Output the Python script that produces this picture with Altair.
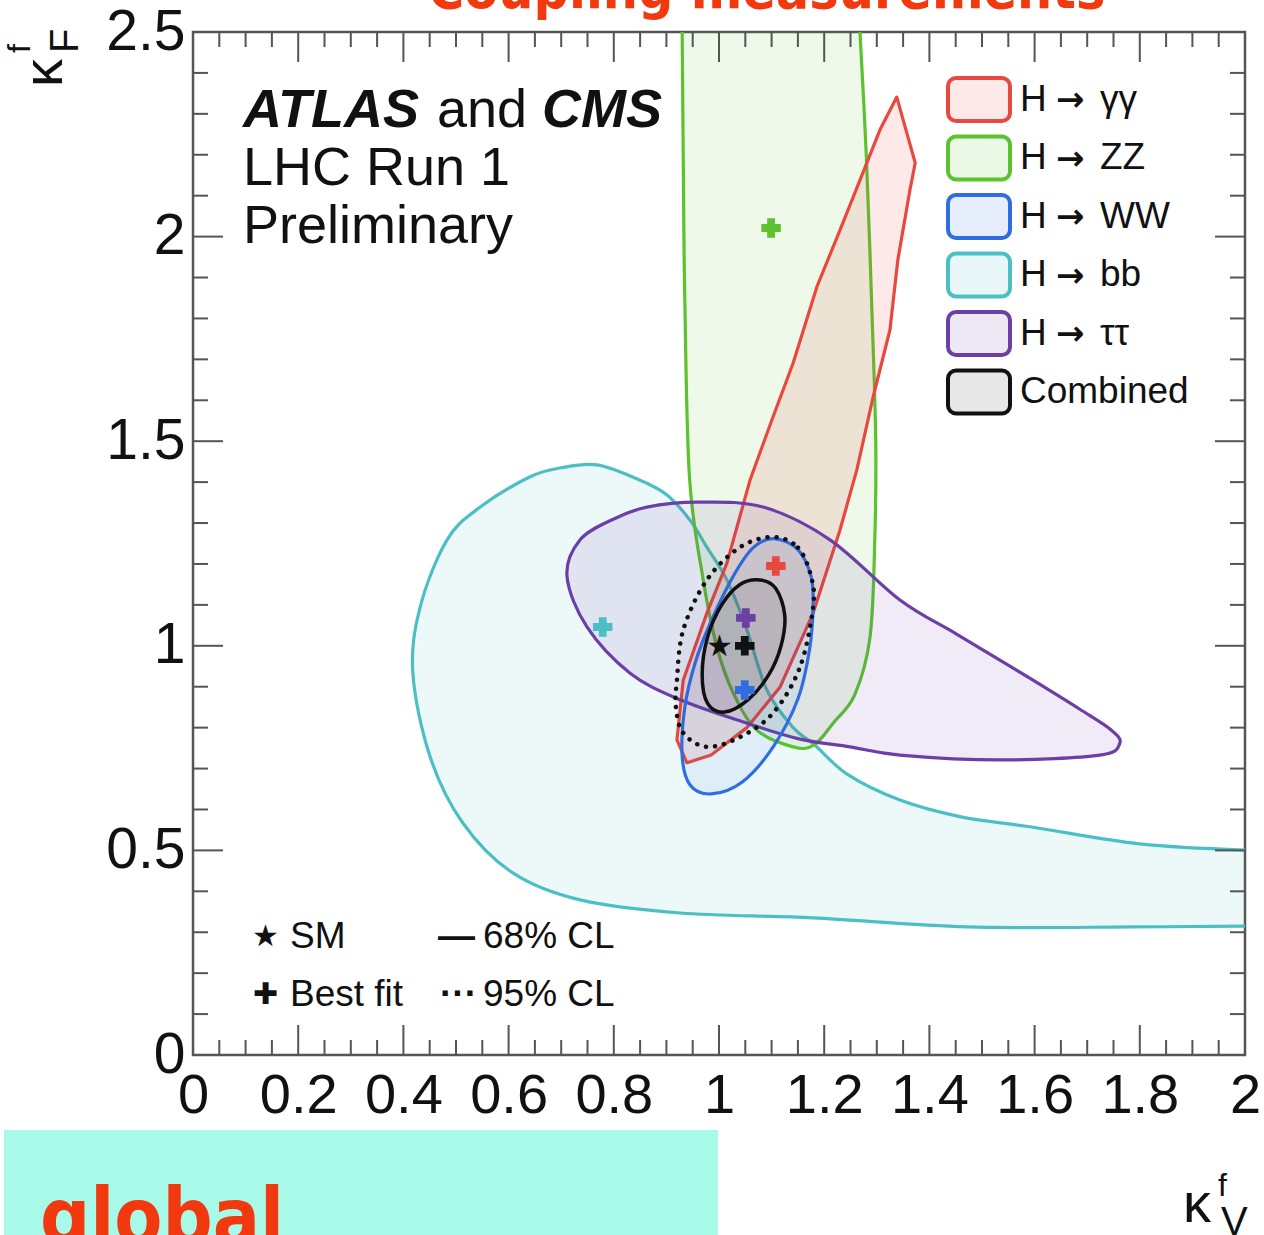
import altair as alt
import pandas as pd

FONT = "Liberation Sans"

# ---------------- data ----------------
# H -> bb (cyan), open curve ending on the right frame
bb_x = [2.0, 1.80, 1.60, 1.46, 1.344, 1.245, 1.18, 1.141, 1.091, 1.053, 1.015, 0.975, 0.945,
        0.90, 0.844, 0.768, 0.70, 0.641, 0.546, 0.483, 0.432, 0.418, 0.451, 0.513, 0.608, 0.736,
        0.926, 1.179, 1.471, 1.787, 2.0]
bb_y = [0.501, 0.516, 0.556, 0.582, 0.623, 0.685, 0.76, 0.80, 0.892, 1.039, 1.161, 1.245, 1.307,
        1.37, 1.408, 1.442, 1.435, 1.413, 1.339, 1.259, 1.095, 0.933, 0.728, 0.567, 0.445, 0.379,
        0.347, 0.335, 0.313, 0.313, 0.315]

# H -> ZZ (green), open curve ending on the top frame
zz_x = [0.930, 0.932, 0.935, 0.944, 0.970, 0.996, 1.027, 1.072, 1.141, 1.180, 1.217, 1.258, 1.287,
        1.296, 1.298, 1.290, 1.280, 1.268]
zz_y = [2.5, 2.2, 1.845, 1.41, 1.161, 0.997, 0.885, 0.794, 0.753, 0.757, 0.811, 0.88, 1.02,
        1.25, 1.50, 1.845, 2.2, 2.5]

# H -> gamma gamma (red)
gg_x = [1.338, 1.373, 1.363, 1.340, 1.325, 1.293, 1.262, 1.230, 1.179, 1.116, 1.053, 0.985, 0.939,
        0.920, 0.932, 0.977, 1.015, 1.059, 1.100, 1.141, 1.186, 1.230, 1.268, 1.306]
gg_y = [2.341, 2.180, 2.114, 1.943, 1.772, 1.608, 1.43, 1.283, 1.080, 0.899, 0.80, 0.733, 0.714,
        0.770, 0.916, 1.080, 1.202, 1.405, 1.55, 1.691, 1.877, 2.016, 2.138, 2.261]

# H -> tau tau (purple)
tt_x = [0.711, 0.736, 0.80, 0.863, 0.958, 1.084, 1.211, 1.344, 1.45, 1.534, 1.597, 1.686, 1.745,
        1.762, 1.724, 1.534, 1.344, 1.249, 1.154, 1.053, 0.926, 0.831, 0.749]
tt_y = [1.170, 1.259, 1.31, 1.339, 1.351, 1.339, 1.259, 1.112, 1.03, 0.965, 0.916, 0.845, 0.795,
        0.762, 0.733, 0.721, 0.733, 0.753, 0.772, 0.811, 0.868, 0.933, 1.046]

# H -> WW (blue)
ww_x = [1.105, 1.150, 1.175, 1.179, 1.172, 1.150, 1.103, 1.045, 0.985, 0.945, 0.930, 0.935, 0.955,
        0.985, 1.027, 1.065]
ww_y = [1.262, 1.235, 1.17, 1.10, 0.99, 0.87, 0.753, 0.668, 0.638, 0.66, 0.73, 0.85, 0.96,
        1.06, 1.170, 1.24]

# Combined 95% CL (dotted)
c95_x = [1.103, 1.150, 1.175, 1.179, 1.154, 1.103, 1.040, 0.977, 0.932, 0.918, 0.920, 0.932, 0.977, 1.040]
c95_y = [1.266, 1.24, 1.17, 1.095, 0.948, 0.836, 0.777, 0.753, 0.787, 0.85, 0.916, 1.039, 1.161, 1.241]

# Combined 68% CL (solid)
c68_x = [1.078, 1.108, 1.125, 1.118, 1.095, 1.055, 1.010, 0.978, 0.968, 0.978, 1.005, 1.040]
c68_y = [1.161, 1.140, 1.075, 1.000, 0.930, 0.868, 0.838, 0.860, 0.930, 1.020, 1.100, 1.150]

# best-fit points and SM
bf_x = [1.108, 1.099, 1.049, 0.779, 1.051, 1.049]
bf_y = [1.195, 2.021, 0.892, 1.046, 1.068, 1.000]
sm_x = [1.0]
sm_y = [1.0]

leg_final = ["\u03b3\u03b3", "ZZ", "WW", "bb", "\u03c4\u03c4"]
leg_colors = ["#e8493e", "#5cc22e", "#2f6de0", "#4cbfc4", "#6b3fa6", "#111111"]

x_major = [0, 0.2, 0.4, 0.6, 0.8, 1.0, 1.2, 1.4, 1.6, 1.8, 2.0]
x_minor = [round(0.05 * k, 2) for k in range(41) if k % 4 != 0]
y_major = [0, 0.5, 1.0, 1.5, 2.0, 2.5]
y_minor = [round(0.1 * k, 1) for k in range(26) if k % 5 != 0]

# ---------------- chart ----------------
W, H = 1052, 1023
xs = alt.Scale(domain=[0, 2], nice=False, zero=False)
ys = alt.Scale(domain=[0, 2.5], nice=False, zero=False)
x_axis = alt.Axis(orient="bottom", values=x_major, format="~g", labelFontSize=56, labelFont=FONT,
                  labelColor="#111", ticks=False, domain=False, grid=False, labelPadding=13,
                  title=None, labelFlush=False, labelOverlap=False)
y_axis = alt.Axis(orient="left", values=y_major, format="~g", labelFontSize=57, labelFont=FONT,
                  labelColor="#111", ticks=False, domain=False, grid=False, labelPadding=8,
                  title=None, labelFlush=False, labelOverlap=False)


def X(f="x"):
    return alt.X(f"{f}:Q", scale=xs, axis=x_axis)


def Y(f="y"):
    return alt.Y(f"{f}:Q", scale=ys, axis=y_axis)


def poly_df(xv, yv):
    return pd.DataFrame({"x": xv, "y": yv, "i": list(range(len(xv)))})


def contour(xv, yv, color, op, interp, width=3.2, dash=None):
    kw = dict(stroke=color, fill=color, fillOpacity=op, strokeWidth=width,
              interpolate=interp, strokeJoin="round")
    if dash:
        kw["strokeDash"] = dash
        kw["strokeCap"] = "round"
    return alt.Chart(poly_df(xv, yv)).mark_line(**kw).encode(x=X(), y=Y(), order=alt.Order("i:Q"))


def open_contour(xv, yv, color, op, width=3.2):
    fill = alt.Chart(poly_df(xv, yv)).mark_line(
        stroke=color, strokeOpacity=0, strokeWidth=0, fill=color, fillOpacity=op,
        interpolate="linear-closed").encode(x=X(), y=Y(), order=alt.Order("i:Q"))
    line = alt.Chart(poly_df(xv, yv)).mark_line(
        color=color, strokeWidth=width, interpolate="cardinal", strokeJoin="round"
    ).encode(x=X(), y=Y(), order=alt.Order("i:Q"))
    return [fill, line]


one = pd.DataFrame({"a": [0]})


def txt(s, x, y, size, **kw):
    params = dict(text=s, fontSize=size, font=FONT, color="#111", align="left", baseline="alphabetic")
    params.update(kw)
    return alt.Chart(one).mark_text(**params).encode(x=alt.value(x), y=alt.value(y))


layers = []
layers += open_contour(bb_x, bb_y, leg_colors[3], 0.10)
layers += open_contour(zz_x, zz_y, leg_colors[1], 0.10)
layers.append(contour(gg_x, gg_y, leg_colors[0], 0.12, "linear-closed"))
layers.append(contour(tt_x, tt_y, leg_colors[4], 0.10, "cardinal-closed"))
layers.append(contour(ww_x, ww_y, leg_colors[2], 0.08, "cardinal-closed"))
layers.append(contour(c95_x, c95_y, "#111111", 0.03, "cardinal-closed", width=4.5, dash=[0.1, 9]))
layers.append(contour(c68_x, c68_y, "#111111", 0.08, "cardinal-closed", width=3.5))

# ticks on all four sides (inward), drawn with tick marks through the scales
tick_col = "#555"
xmaj = pd.DataFrame({"x": x_major})
xmin = pd.DataFrame({"x": x_minor})
ymaj = pd.DataFrame({"y": y_major})
ymin = pd.DataFrame({"y": y_minor})
for df, L in ((xmaj, 30), (xmin, 15)):
    layers.append(alt.Chart(df).mark_tick(color=tick_col, thickness=2, size=L, orient="vertical", opacity=1)
                  .encode(x=X(), y=alt.value(H - L / 2)))
    layers.append(alt.Chart(df).mark_tick(color=tick_col, thickness=2, size=L, orient="vertical", opacity=1)
                  .encode(x=X(), y=alt.value(L / 2)))
for df, L in ((ymaj, 30), (ymin, 15)):
    layers.append(alt.Chart(df).mark_tick(color=tick_col, thickness=2, size=L, orient="horizontal", opacity=1)
                  .encode(y=Y(), x=alt.value(L / 2)))
    layers.append(alt.Chart(df).mark_tick(color=tick_col, thickness=2, size=L, orient="horizontal", opacity=1)
                  .encode(y=Y(), x=alt.value(W - L / 2)))

# experiment label
layers.append(txt("ATLAS", 50, 95, 54, fontWeight="bold", fontStyle="italic"))
layers.append(txt("and", 244, 95, 54))
layers.append(txt("CMS", 349, 95, 54, fontWeight="bold", fontStyle="italic"))
layers.append(txt("LHC Run 1", 50, 153, 54))
layers.append(txt("Preliminary", 50, 211, 54))

# colour legend (top right)
for i, col in enumerate(leg_colors):
    y0 = 46 + 58.5 * i
    layers.append(alt.Chart(one).mark_rect(cornerRadius=8, stroke=col, strokeWidth=4, fill=col,
                                           fillOpacity=0.12 if i < 5 else 0.1)
                  .encode(x=alt.value(755), x2=alt.value(817), y=alt.value(y0), y2=alt.value(y0 + 43)))
    if i < 5:
        layers.append(txt("H", 827, y0 + 21.5, 37, baseline="middle"))
        layers.append(txt("\u2192", 863, y0 + 23, 34, baseline="middle", font="DejaVu Sans",
                          fontWeight="bold"))
        layers.append(txt(leg_final[i], 907, y0 + 21.5, 37, baseline="middle"))
    else:
        layers.append(txt("Combined", 827, y0 + 21.5, 37, baseline="middle"))

# marker / line-style legend (bottom left)
layers.append(txt("\u2605", 72, 905, 30, baseline="middle", align="center"))
layers.append(txt("\u271a", 72, 963, 30, baseline="middle", align="center"))
layers.append(txt("SM", 97, 905, 37, baseline="middle"))
layers.append(txt("Best fit", 97, 963, 37, baseline="middle"))
layers.append(txt("\u2014", 245, 905, 37, baseline="middle", fontWeight="bold"))
layers.append(txt("\u00b7\u00b7\u00b7", 247, 963, 37, baseline="middle", fontWeight="bold"))
layers.append(txt("68% CL", 290, 905, 37, baseline="middle"))
layers.append(txt("95% CL", 290, 963, 37, baseline="middle"))

# axis titles
layers.append(txt("\u03ba", -131, 55, 56, angle=270))
layers.append(txt("f", -163, 21, 32, angle=270))
layers.append(txt("F", -115, 21, 40, angle=270))
layers.append(txt("\u03ba", 990, 1190, 56))
layers.append(txt("f", 1025, 1164, 32))
layers.append(txt("V", 1028, 1203, 40))

# slide decorations around the figure
layers.append(alt.Chart(one).mark_rect(color="#a9f9e9")
              .encode(x=alt.value(-189), x2=alt.value(525), y=alt.value(1098), y2=alt.value(1215)))
layers.append(txt("global", -153, 1212, 78, fontWeight="bold", color="#f2380e",
                  font="Liberation Sans Narrow, DejaVu Sans Condensed, sans-serif"))
layers.append(txt("Coupling measurements", 235, -24, 55, fontWeight="bold", color="#f2380e",
                  font="Liberation Sans Narrow, DejaVu Sans Condensed, sans-serif"))

# best fits (crosses) and SM (star)
bf = pd.DataFrame({"x": bf_x, "y": bf_y, "c": leg_colors})
layers.append(alt.Chart(bf).mark_point(shape="cross", filled=True, size=380, opacity=1, strokeWidth=0)
              .encode(x=X(), y=Y(), color=alt.Color("c:N", scale=None)))
sm = pd.DataFrame({"x": sm_x, "y": sm_y, "t": ["\u2605"]})
layers.append(alt.Chart(sm).mark_text(fontSize=30, color="#111", baseline="middle", align="center", dy=1)
              .encode(x=X(), y=Y(), text="t:N"))

chart = alt.layer(*layers).properties(
    width=W, height=H,
    autosize=alt.AutoSizeParams(type="none"),
    padding={"left": 193, "top": 32, "right": 19, "bottom": 180},
    background="white",
).configure_view(stroke="#555", strokeWidth=2.5)

chart.save("out.html", embed_options={"renderer": "svg", "actions": False})
